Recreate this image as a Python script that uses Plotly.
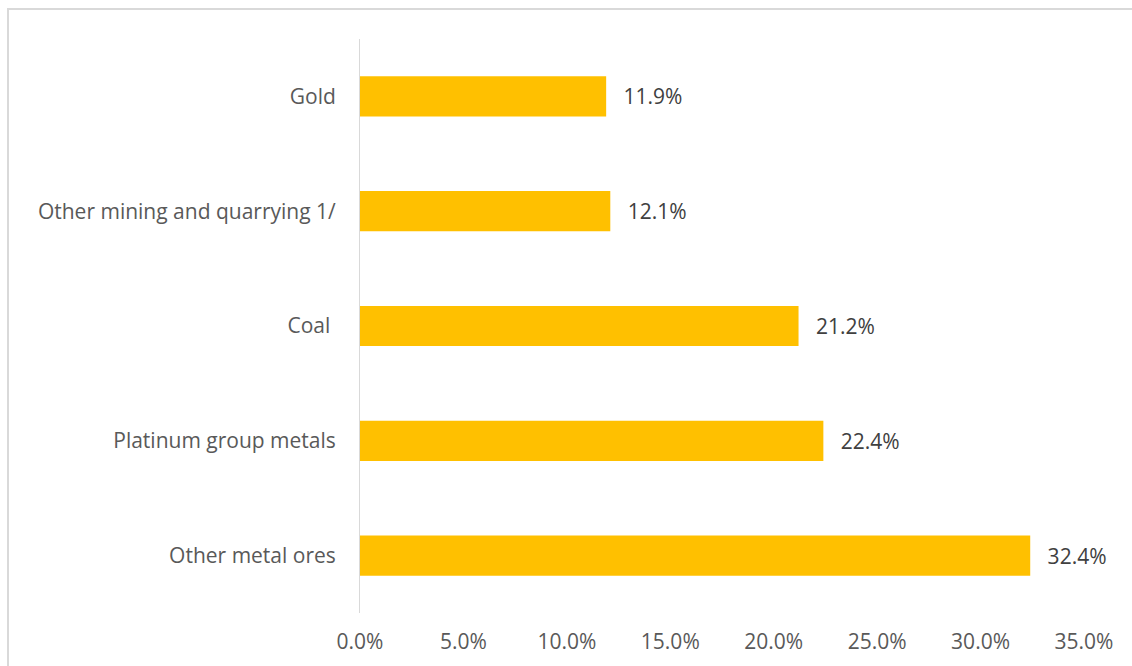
import plotly.graph_objects as go

categories = ["Gold", "Other mining and quarrying 1/", "Coal ", "Platinum group metals", "Other metal ores"]
values = [11.9, 12.1, 21.2, 22.4, 32.4]
tick_vals = [0, 5, 10, 15, 20, 25, 30, 35]
tick_text = ["0.0%", "5.0%", "10.0%", "15.0%", "20.0%", "25.0%", "30.0%", "35.0%"]

FS = 21

fig = go.Figure()
fig.add_trace(go.Bar(
    y=categories,
    x=values,
    orientation="h",
    marker=dict(color="#FFC000", line=dict(width=0)),
    width=0.35,
    text=["\u00a0\u00a0\u2009" + f"{v:.1f}%" for v in values],
    textposition="outside",
    cliponaxis=False,
    textfont=dict(family="Open Sans", size=FS, color="#404040"),
))

fig.update_layout(
    width=1132, height=666,
    margin=dict(l=360, r=48, t=39, b=53),
    paper_bgcolor="white", plot_bgcolor="white",
    showlegend=False,
    font=dict(family="Open Sans", size=FS, color="#595959"),
    xaxis=dict(
        range=[0, 35], tickvals=tick_vals, ticktext=tick_text,
        showgrid=False, zeroline=False, showline=False,
        ticks="", ticklabelstandoff=14,
        tickfont=dict(family="Open Sans", size=FS, color="#595959"),
    ),
    yaxis=dict(
        autorange="reversed", showgrid=False, zeroline=False,
        showline=True, linecolor="#D9D9D9", linewidth=1,
        ticks="", ticklabelstandoff=19,
        tickfont=dict(family="Open Sans", size=FS, color="#595959"),
    ),
)

# chart border
fig.add_shape(type="rect", xref="paper", yref="paper",
              x0=(8 - 360) / (1132 - 360 - 48), x1=(1140 - 360) / (1132 - 360 - 48),
              y0=(613 - 672) / (613 - 39), y1=(613 - 9) / (613 - 39),
              line=dict(color="#D9D9D9", width=2), layer="below")

fig.write_html("out.html")
